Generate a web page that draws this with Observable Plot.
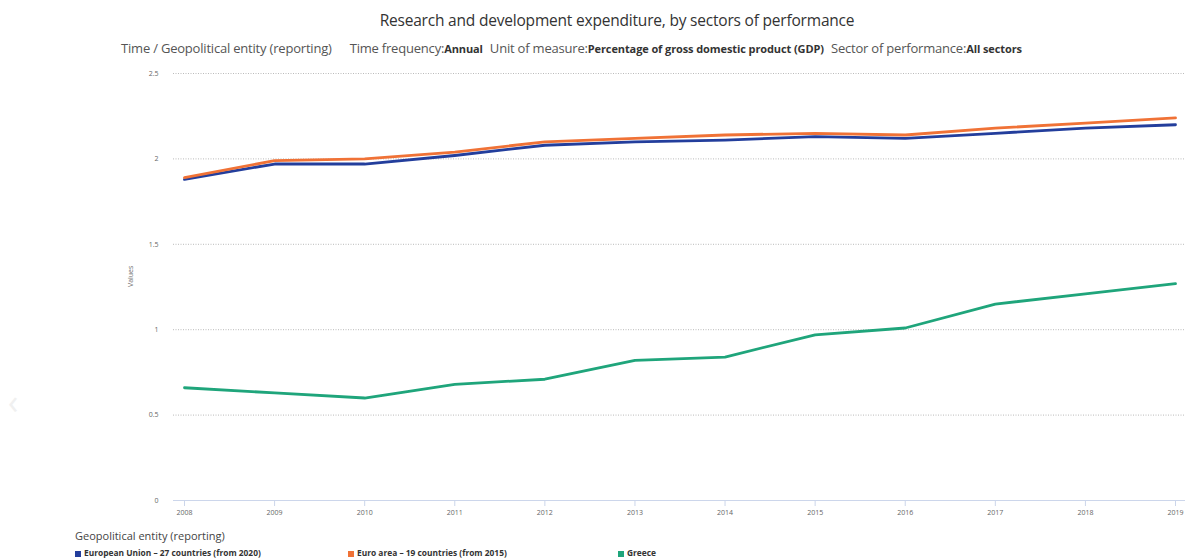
<!DOCTYPE html>
<html>
<head>
<meta charset="utf-8">
<script src="https://cdn.jsdelivr.net/npm/d3@7"></script>
<script src="https://cdn.jsdelivr.net/npm/@observablehq/plot@0.6"></script>
<style>
  html, body { margin: 0; padding: 0; background: #fff; }
  body { width: 1190px; height: 559px; position: relative; overflow: hidden; font-family: "Open Sans", "Noto Sans", sans-serif; }
  .abs { position: absolute; white-space: nowrap; }
  #title { left: 0; width: 1234px; top: 9px; text-align: center; font-size: 15.5px; color: #333; letter-spacing: -0.2px; }
  #subtitle { left: 121px; top: 39px; font-size: 13px; color: #555; letter-spacing: -0.2px; }
  #subtitle b { font-size: 11px; color: #333; letter-spacing: -0.1px; }
  #subtitle .g1 { display: inline-block; width: 18px; }
  #subtitle .g { display: inline-block; width: 7px; }
  #chart { left: 0; top: 0; }
  #legtitle { left: 75px; top: 528px; font-size: 11px; color: #444; }
  .leg { top: 547px; font-size: 8.4px; font-weight: bold; color: #333; }
  .sw { display: inline-block; width: 6px; height: 6px; margin-right: 3px; vertical-align: -0.5px; }
  #arrow { left: 8px; top: 378px; font-size: 34px; color: #f0f0f0; }
</style>
</head>
<body>
<div id="chart" class="abs"></div>
<div id="title" class="abs">Research and development expenditure, by sectors of performance</div>
<div id="subtitle" class="abs">Time / Geopolitical entity (reporting)<span class="g1"></span>Time frequency:<b>Annual</b><span class="g"></span>Unit of measure:<b>Percentage of gross domestic product (GDP)</b><span class="g"></span>Sector of performance:<b>All sectors</b></div>
<div id="legtitle" class="abs">Geopolitical entity (reporting)</div>
<div id="legend"></div>
<div id="arrow" class="abs">&#x2039;</div>
<script>
const years = [2008, 2009, 2010, 2011, 2012, 2013, 2014, 2015, 2016, 2017, 2018, 2019];
const seriesNames = [
  "European Union - 27 countries (from 2020)",
  "Euro area - 19 countries (from 2015)",
  "Greece"
];
const seriesColors = ["#233e9c", "#f07236", "#1fa57b"];
const eu27 = [1.88, 1.97, 1.97, 2.02, 2.08, 2.10, 2.11, 2.13, 2.12, 2.15, 2.18, 2.20];
const ea19 = [1.89, 1.99, 2.00, 2.04, 2.10, 2.12, 2.14, 2.15, 2.14, 2.18, 2.21, 2.24];
const greece = [0.66, 0.63, 0.60, 0.68, 0.71, 0.82, 0.84, 0.97, 1.01, 1.15, 1.21, 1.27];
const yTicks = [0, 0.5, 1, 1.5, 2, 2.5];
const yLabel = "Values";

const seriesValues = [eu27, ea19, greece];
const data = [];
seriesNames.forEach((name, i) => {
  years.forEach((yr, j) => data.push({ series: name, year: yr, value: seriesValues[i][j] }));
});

const chart = Plot.plot({
  width: 1190,
  height: 525,
  marginTop: 73,
  marginBottom: 25,
  marginLeft: 173,
  marginRight: 5,
  style: { fontFamily: "'Open Sans', 'Noto Sans', sans-serif", background: "transparent" },
  x: { type: "linear", domain: [years[0], years[years.length - 1]], insetLeft: 11, insetRight: 10 },
  y: { domain: [0, 2.5] },
  color: { domain: seriesNames, range: seriesColors },
  marks: [
    Plot.ruleY(yTicks.filter(d => d > 0), { stroke: "#bbbbbb", strokeWidth: 1, strokeDasharray: "1,1.5" }),
    Plot.ruleY([0], { stroke: "#ccd6eb", strokeWidth: 1 }),
    Plot.axisY({ ticks: yTicks, tickFormat: d => String(d), tickSize: 0, tickPadding: 15, fontSize: 7, color: "#666", label: null }),
    Plot.axisX({ ticks: years, tickFormat: d => String(d), tickSize: 6, tickPadding: 4, fontSize: 7, color: "#666", stroke: "#ccd6eb", label: null }),
    Plot.text([yLabel], { frameAnchor: "left", dx: -43, rotate: -90, fontSize: 7, fill: "#666" }),
    Plot.line(data, { x: "year", y: "value", z: "series", stroke: "series", strokeWidth: 2.8, curve: "linear" })
  ]
});
document.getElementById("chart").appendChild(chart);

const legendX = [75, 348, 618];
const legend = document.getElementById("legend");
seriesNames.forEach((name, i) => {
  const el = document.createElement("div");
  el.className = "abs leg";
  el.style.left = legendX[i] + "px";
  el.innerHTML = `<span class="sw" style="background:${seriesColors[i]}"></span>` + name.replace(" - ", " &ndash; ");
  legend.appendChild(el);
});
</script>
</body>
</html>
